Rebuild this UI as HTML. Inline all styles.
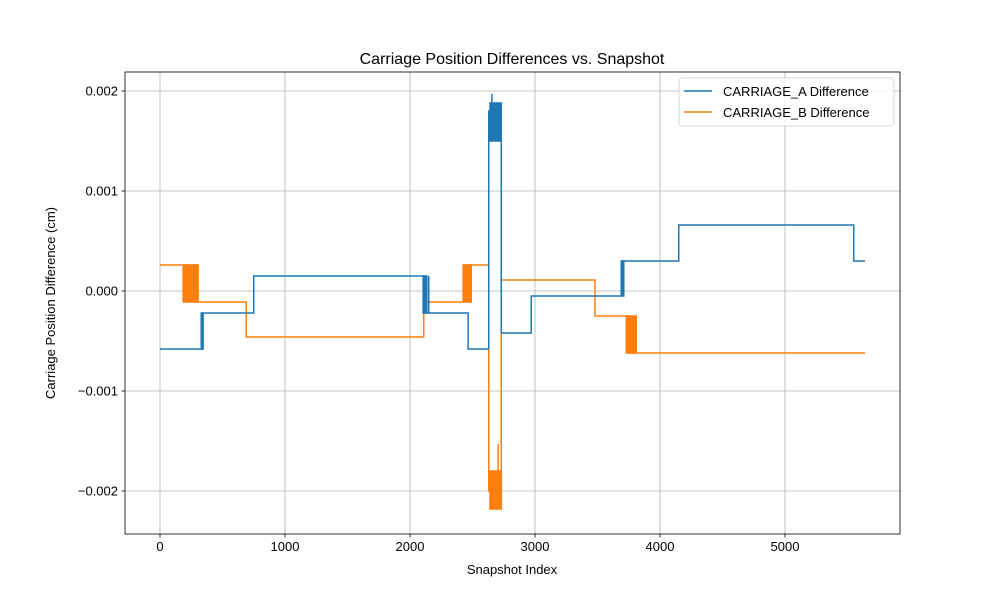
<!DOCTYPE html>
<html><head><meta charset="utf-8"><style>
body{margin:0;background:#fff;}
svg text{font-family:"Liberation Sans","DejaVu Sans",sans-serif;}
</style></head><body>
<svg id="chart" width="1000" height="600" viewBox="0 0 1000 600">
<rect width="1000" height="600" fill="#fff"/>
<g id="grid"></g><g id="series"></g><g id="axes"></g>
<text x="512" y="64" text-anchor="middle" font-size="16">Carriage Position Differences vs. Snapshot</text>
<text x="512" y="574" text-anchor="middle" font-size="13">Snapshot Index</text>
<text x="0" y="0" transform="translate(55,303) rotate(-90)" text-anchor="middle" font-size="13">Carriage Position Difference (cm)</text>
<g>
<rect x="679" y="78" width="215" height="48" rx="3" fill="#fff" fill-opacity="0.8" stroke="#ccc" stroke-width="0.8"/>
<g><line x1="684" x2="712" y1="91" y2="91" stroke="#1f77b4" stroke-width="1.5"/><text x="723" y="96" font-size="13">CARRIAGE_A Difference</text></g>
<g><line x1="684" x2="712" y1="112" y2="112" stroke="#ff7f0e" stroke-width="1.5"/><text x="723" y="117" font-size="13">CARRIAGE_B Difference</text></g>
</g>
</svg>
<script>
const xTicks=[0,1000,2000,3000,4000,5000];
const yTicks=[-0.002,-0.001,0,0.001,0.002];
const yTickLabels=["\u22120.002","\u22120.001","0.000","0.001","0.002"];
const aStepX=[0,340,750,2120,2465,2630,2730,2970,3695,4150,5550,5640];
const aStepY=[-0.00058,-0.00022,0.00015,-0.00022,-0.00058,0.0018,-0.00042,-0.00005,0.0003,0.00066,0.0003,0.0003];
const aBands=[[330,345,-0.00058,-0.00022],[2105,2135,-0.00022,0.00015],[2640,2730,0.0015,0.00188],[3690,3710,-0.00005,0.0003]];
const aSpikes=[[2150,-0.00022,0.00015],[2655,0.0018,0.00197]];
const bStepX=[0,300,690,2110,2440,2630,2730,3480,3760,5640];
const bStepY=[0.00026,-0.00011,-0.00046,-0.00011,0.00026,-0.002,0.00011,-0.00025,-0.00062,-0.00062];
const bBands=[[185,305,-0.00011,0.00026],[2425,2490,-0.00011,0.00026],[2640,2730,-0.00218,-0.0018],[3730,3810,-0.00062,-0.00025]];
const bSpikes=[[2705,-0.0018,-0.00153]];

const L=125,R=900,T=72,B=534;
const X=v=>160+v*0.125;
const Y=v=>291-v*100000;
const NS="http://www.w3.org/2000/svg";
function mk(t,a,p){const e=document.createElementNS(NS,t);for(const k in a)e.setAttribute(k,a[k]);p.appendChild(e);return e;}
const grid=document.getElementById('grid'),ser=document.getElementById('series'),ax=document.getElementById('axes');
xTicks.forEach(v=>{const l=mk('line',{x1:X(v),x2:X(v),y1:T,y2:B,stroke:'#b0b0b0','stroke-width':0.8},grid);

mk('line',{x1:X(v),x2:X(v),y1:B,y2:B+3.5,stroke:'#000','stroke-width':0.8},ax);
const t=mk('text',{x:X(v),y:B+17,'text-anchor':'middle','font-size':13},ax);t.textContent=v;
});
yTicks.forEach((v,i)=>{const l=mk('line',{x1:L,x2:R,y1:Y(v),y2:Y(v),stroke:'#b0b0b0','stroke-width':0.8},grid);

mk('line',{x1:L-3.5,x2:L,y1:Y(v),y2:Y(v),stroke:'#000','stroke-width':0.8},ax);
const t=mk('text',{x:L-7,y:Y(v)+4.5,'text-anchor':'end','font-size':13},ax);t.textContent=yTickLabels[i];
});
function draw(sx,sy,bands,spikes,col,name){
 let d='M'+X(sx[0])+','+Y(sy[0]);
 for(let i=1;i<sx.length;i++){d+=' L'+X(sx[i])+','+Y(sy[i-1])+' L'+X(sx[i])+','+Y(sy[i]);}
 const p=mk('path',{d:d,fill:'none',stroke:col,'stroke-width':1.5},ser);
 
 bands.forEach(b=>{const r=mk('rect',{x:X(b[0]),y:Y(b[3]),width:X(b[1])-X(b[0]),height:Y(b[2])-Y(b[3]),fill:col,stroke:col,'stroke-width':1.5},ser);
 });
 spikes.forEach(s=>{const l=mk('line',{x1:X(s[0]),x2:X(s[0]),y1:Y(s[1]),y2:Y(s[2]),stroke:col,'stroke-width':1.5},ser);
 });
}
draw(bStepX,bStepY,bBands,bSpikes,'#ff7f0e','carriage-b');
draw(aStepX,aStepY,aBands,aSpikes,'#1f77b4','carriage-a');
const fr=mk('rect',{x:L,y:T,width:R-L,height:B-T,fill:'none',stroke:'#000','stroke-width':0.8},ax);

</script>
</body></html>
